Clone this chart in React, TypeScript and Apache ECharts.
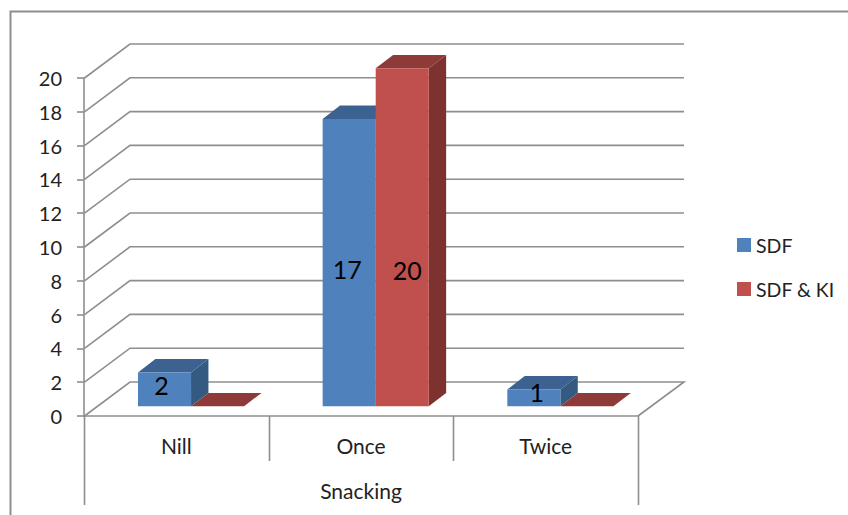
import React, { useEffect, useRef } from "react";
import * as echarts from "echarts";

const categories = ["Nill", "Once", "Twice"];
const sdfValues = [2, 17, 1];
const sdfKiValues = [0, 20, 0];
const gridTicks = [0, 2, 4, 6, 8, 10, 12, 14, 16, 18, 20];
const seriesNames = ["SDF", "SDF & KI"];
const axisTitle = "Snacking";

const FONT = "Lato, 'Open Sans', sans-serif";
const LINE = "#8e8e8e";
const LINE_W = 1.6;

// Oblique projection of the chart box and of each bar's depth.
const WALL = { dx: 46, dy: 34 };
const BAR_DEPTH = { dx: 17.4, dy: 13.4 };
const BAR_SHIFT = { dx: 14.7, dy: 9.7 };
const BAR_RATIO = 53 / 184.5;

const BLUE = { front: "#4f81bd", top: "#3b6290", side: "#345a82" };
const RED = { front: "#c0504d", top: "#8e3a38", side: "#7d3230" };

// Label placement relative to the centre of each bar's front face.
const LABEL_NUDGE_SDF = [[-3, -4], [-2, 6], [3, -6]];
const LABEL_NUDGE_KI = [[0, 0], [5, 33], [0, 0]];

function barRenderer(slot: number, colors: typeof BLUE, nudges: number[][]) {
  return (params: any, api: any) => {
    const i = api.value(0);
    const v = api.value(1);
    const band = api.size([1, 0])[0];
    const w = band * BAR_RATIO;
    const top = api.coord([i, v]);
    const base = api.coord([i, 0]);
    const x0 = base[0] + BAR_SHIFT.dx + (slot - 1) * w;
    const x1 = x0 + w;
    const yb = base[1] - BAR_SHIFT.dy;
    const yt = top[1] - BAR_SHIFT.dy;
    const d = BAR_DEPTH;
    const children: any[] = [];
    children.push({
      type: "polygon",
      shape: { points: [[x1, yt], [x1 + d.dx, yt - d.dy], [x1 + d.dx, yb - d.dy], [x1, yb]] },
      style: { fill: colors.side },
    });
    children.push({
      type: "polygon",
      shape: { points: [[x0, yt], [x1, yt], [x1 + d.dx, yt - d.dy], [x0 + d.dx, yt - d.dy]] },
      style: { fill: colors.top },
    });
    if (v > 0) {
      children.push({
        type: "rect",
        shape: { x: x0, y: yt, width: w, height: yb - yt },
        style: { fill: colors.front },
      });
      children.push({
        type: "text",
        z2: 10,
        style: {
          text: String(v),
          x: (x0 + x1) / 2 + nudges[i][0],
          y: (yt + yb) / 2 + nudges[i][1],
          align: "center",
          verticalAlign: "middle",
          font: `25px ${FONT}`,
          fill: "#000",
        },
      });
    }
    return { type: "group", children };
  };
}

function wallRenderer(params: any, api: any) {
  const tick = api.value(0);
  const cs = params.coordSys;
  const y = api.coord([0, tick])[1];
  const pts = [
    [cs.x + 0.5, y],
    [cs.x + WALL.dx, y - WALL.dy],
    [cs.x + cs.width + WALL.dx, y - WALL.dy],
  ];
  if (tick === 0) pts.push([cs.x + cs.width, y]);
  return {
    type: "polyline",
    shape: { points: pts },
    style: { stroke: LINE, lineWidth: LINE_W, fill: "none" },
  };
}

// Dividers of the two-level category axis: full height at the ends, short between categories.
function axisDividersRenderer(params: any) {
  const cs = params.coordSys;
  const y0 = cs.y + cs.height;
  const band = cs.width / categories.length;
  const children = categories.concat("").map((_, i) => {
    const isEnd = i === 0 || i === categories.length;
    const x = Math.round(cs.x + i * band) + 0.5;
    return {
      type: "line",
      shape: { x1: x, y1: y0, x2: x, y2: y0 + (isEnd ? 89 : 45) },
      style: { stroke: LINE, lineWidth: LINE_W },
    };
  });
  return { type: "group", children };
}

export default function App() {
  const ref = useRef<HTMLDivElement>(null);

  useEffect(() => {
    const chart = echarts.init(ref.current!, undefined, { renderer: "svg" });
    chart.setOption({
      animation: false,
      backgroundColor: "#fff",
      grid: { left: 84, top: 78, width: 554, height: 338, containLabel: false },
      legend: {
        left: 737,
        top: 235,
        padding: 0,
        orient: "vertical",
        itemWidth: 14,
        itemHeight: 14,
        itemGap: 24,
        icon: "rect",
        data: seriesNames,
        selectedMode: false,
        textStyle: { fontFamily: FONT, fontSize: 19.5, color: "#222" },
      },
      xAxis: {
        type: "category",
        data: categories,
        name: axisTitle,
        nameLocation: "middle",
        nameGap: 64,
        nameTextStyle: { fontFamily: FONT, fontSize: 21, color: "#222" },
        axisLine: { lineStyle: { color: LINE, width: LINE_W } },
        axisTick: { show: false },
        axisLabel: { margin: 19, fontFamily: FONT, fontSize: 21, color: "#222" },
        splitLine: { show: false },
      },
      yAxis: {
        type: "value",
        min: 0,
        max: 20,
        interval: 2,
        axisLine: { show: true, lineStyle: { color: LINE, width: LINE_W } },
        axisTick: { show: true, length: 7, lineStyle: { color: LINE, width: LINE_W } },
        axisLabel: { margin: 22, fontFamily: FONT, fontSize: 20, color: "#222" },
        splitLine: { show: false },
      },
      graphic: [
        {
          type: "polyline",
          silent: true,
          shape: { points: [[10.5, 515], [10.5, 11.5], [848, 11.5]] },
          style: { stroke: LINE, lineWidth: 2, fill: "none" },
        },
      ],
      series: [
        { type: "custom", name: "wall", silent: true, data: gridTicks.map((t) => [t]), renderItem: wallRenderer, encode: { y: 0 }, z: 1 },
        { type: "custom", name: "axisDividers", silent: true, data: [[0]], renderItem: axisDividersRenderer, encode: { y: 0 }, z: 1 },
        {
          type: "custom",
          name: seriesNames[0],
          data: sdfValues.map((v, i) => [i, v]),
          renderItem: barRenderer(0, BLUE, LABEL_NUDGE_SDF),
          encode: { x: 0, y: 1 },
          itemStyle: { color: BLUE.front },
          z: 2,
        },
        {
          type: "custom",
          name: seriesNames[1],
          data: sdfKiValues.map((v, i) => [i, v]),
          renderItem: barRenderer(1, RED, LABEL_NUDGE_KI),
          encode: { x: 0, y: 1 },
          itemStyle: { color: RED.front },
          z: 3,
        },
      ],
    });
    return () => chart.dispose();
  }, []);

  return <div ref={ref} style={{ position: "fixed", left: 0, top: 0, width: 848, height: 515 }} />;
}
